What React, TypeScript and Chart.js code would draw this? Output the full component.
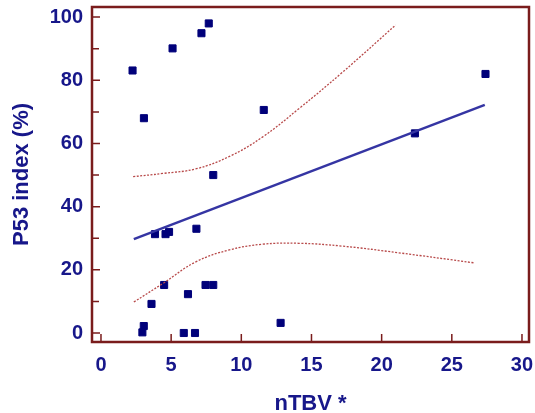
import React, { useEffect, useRef } from 'react';
import { Chart, registerables } from 'chart.js';

Chart.register(...registerables);

// Scatter data (nTBV vs P53 index)
const nTBV = [2.25, 3.06, 5.1, 7.16, 7.68, 11.6, 8.0, 27.4, 22.37, 3.85, 4.6, 4.85, 6.8, 4.5, 7.45, 8.0, 6.2, 3.6, 3.05, 2.95, 5.9, 6.7, 12.8];
const p53 = [83.1, 68.0, 90.1, 94.9, 98.0, 70.6, 50.0, 82.0, 63.2, 31.3, 31.3, 32.0, 33.0, 15.2, 15.2, 15.2, 12.3, 9.2, 2.2, 0.2, 0.0, 0.0, 3.2];

// Regression line
const fitX = [2.34, 27.35];
const fitY = [29.7, 72.2];

// Confidence band
const upperX = [2.29, 4.4, 6.8, 9.2, 11.5, 14.1, 17.2, 21.0];
const upperY = [49.5, 50.5, 52.0, 56.0, 62.0, 71.0, 82.5, 97.5];
const lowerX = [2.34, 4.42, 6.79, 9.15, 11.5, 14.1, 17.2, 21.2, 26.6];
const lowerY = [9.8, 15.7, 22.6, 26.3, 28.1, 28.4, 27.5, 25.4, 22.2];

// Ticks
const xTicks = [0, 5, 10, 15, 20, 25, 30];
const yTicks = [0, 20, 40, 60, 80, 100];
const yMinorTicks = [10, 30, 50, 70, 90];

const FONT = "'Liberation Sans', Arial, Helvetica, sans-serif";
const TEXT = '#17178a';
const FRAME = '#7a1c1c';

const toXY = (xs: number[], ys: number[]) => xs.map((x, i) => ({ x, y: ys[i] }));

const framePlugin = {
  id: 'frameTicks',
  afterDraw(chart: any) {
    const { ctx, chartArea: a, scales } = chart;
    const xs = scales.x;
    const ys = scales.y;
    ctx.save();
    ctx.strokeStyle = FRAME;
    ctx.lineWidth = 1.5;
    ctx.beginPath();
    for (const t of xs.ticks) {
      const px = xs.getPixelForValue(t.value);
      ctx.moveTo(px, a.bottom);
      ctx.lineTo(px, a.bottom - 8);
    }
    for (const t of ys.ticks) {
      const py = ys.getPixelForValue(t.value);
      ctx.moveTo(a.left, py);
      ctx.lineTo(a.left + 8, py);
    }
    for (const v of yMinorTicks) {
      const py = ys.getPixelForValue(v);
      ctx.moveTo(a.left, py);
      ctx.lineTo(a.left + 7, py);
    }
    ctx.stroke();
    ctx.lineWidth = 2.5;
    ctx.strokeRect(a.left, a.top, a.right - a.left, a.bottom - a.top);
    ctx.restore();
  },
};

export default function App() {
  const ref = useRef<HTMLCanvasElement | null>(null);

  useEffect(() => {
    document.body.style.margin = '0';
    if (!ref.current) return;
    const chart = new Chart(ref.current, {
      type: 'scatter',
      data: {
        datasets: [
          {
            data: toXY(upperX, upperY),
            showLine: true,
            borderColor: '#b84a4a',
            borderWidth: 1.3,
            borderDash: [2, 1.5],
            pointRadius: 0,
            tension: 0.4,
          },
          {
            data: toXY(lowerX, lowerY),
            showLine: true,
            borderColor: '#b84a4a',
            borderWidth: 1.3,
            borderDash: [2, 1.5],
            pointRadius: 0,
            tension: 0.4,
          },
          {
            data: toXY(fitX, fitY),
            showLine: true,
            borderColor: '#3535a3',
            borderWidth: 2.5,
            pointRadius: 0,
          },
          {
            data: toXY(nTBV, p53),
            pointStyle: 'rect',
            pointRadius: 5,
            borderWidth: 1,
            backgroundColor: '#00007a',
            borderColor: '#00007a',
          },
        ],
      },
      options: {
        animation: false,
        responsive: true,
        maintainAspectRatio: false,
        layout: { padding: { top: 7, right: 5, left: 0, bottom: 0 } },
        plugins: { legend: { display: false }, tooltip: { enabled: false } },
        scales: {
          x: {
            type: 'linear',
            min: -0.64,
            max: 30.5,
            afterBuildTicks: (s: any) => {
              s.ticks = xTicks.map((v) => ({ value: v }));
            },
            afterFit: (s: any) => {
              s.height = 71;
              s.paddingLeft = 0;
              s.paddingRight = 0;
            },
            grid: { display: false, drawTicks: false },
            border: { display: false },
            ticks: {
              color: TEXT,
              padding: 11,
              font: { family: FONT, size: 20, weight: 'bold' },
              maxRotation: 0,
            },
            title: {
              display: true,
              text: 'nTBV *',
              color: TEXT,
              font: { family: FONT, size: 22, weight: 'bold', lineHeight: 1 },
              padding: { top: 0, bottom: -2 },
            },
          },
          y: {
            type: 'linear',
            min: -2.85,
            max: 103.2,
            afterBuildTicks: (s: any) => {
              s.ticks = yTicks.map((v) => ({ value: v }));
            },
            afterFit: (s: any) => {
              s.width = 92;
              s.paddingTop = 0;
              s.paddingBottom = 0;
            },
            grid: { display: false, drawTicks: false },
            border: { display: false },
            ticks: {
              color: TEXT,
              padding: 9,
              font: { family: FONT, size: 20, weight: 'bold' },
            },
            title: {
              display: true,
              text: 'P53 index (%)',
              color: TEXT,
              font: { family: FONT, size: 22, weight: 'bold', lineHeight: 1 },
              padding: { top: 11, bottom: 0 },
            },
          },
        },
      },
      plugins: [framePlugin],
    } as any);
    return () => chart.destroy();
  }, []);

  return (
    <div style={{ width: 535, height: 413, position: 'relative', background: '#fff' }}>
      <canvas ref={ref} />
    </div>
  );
}
